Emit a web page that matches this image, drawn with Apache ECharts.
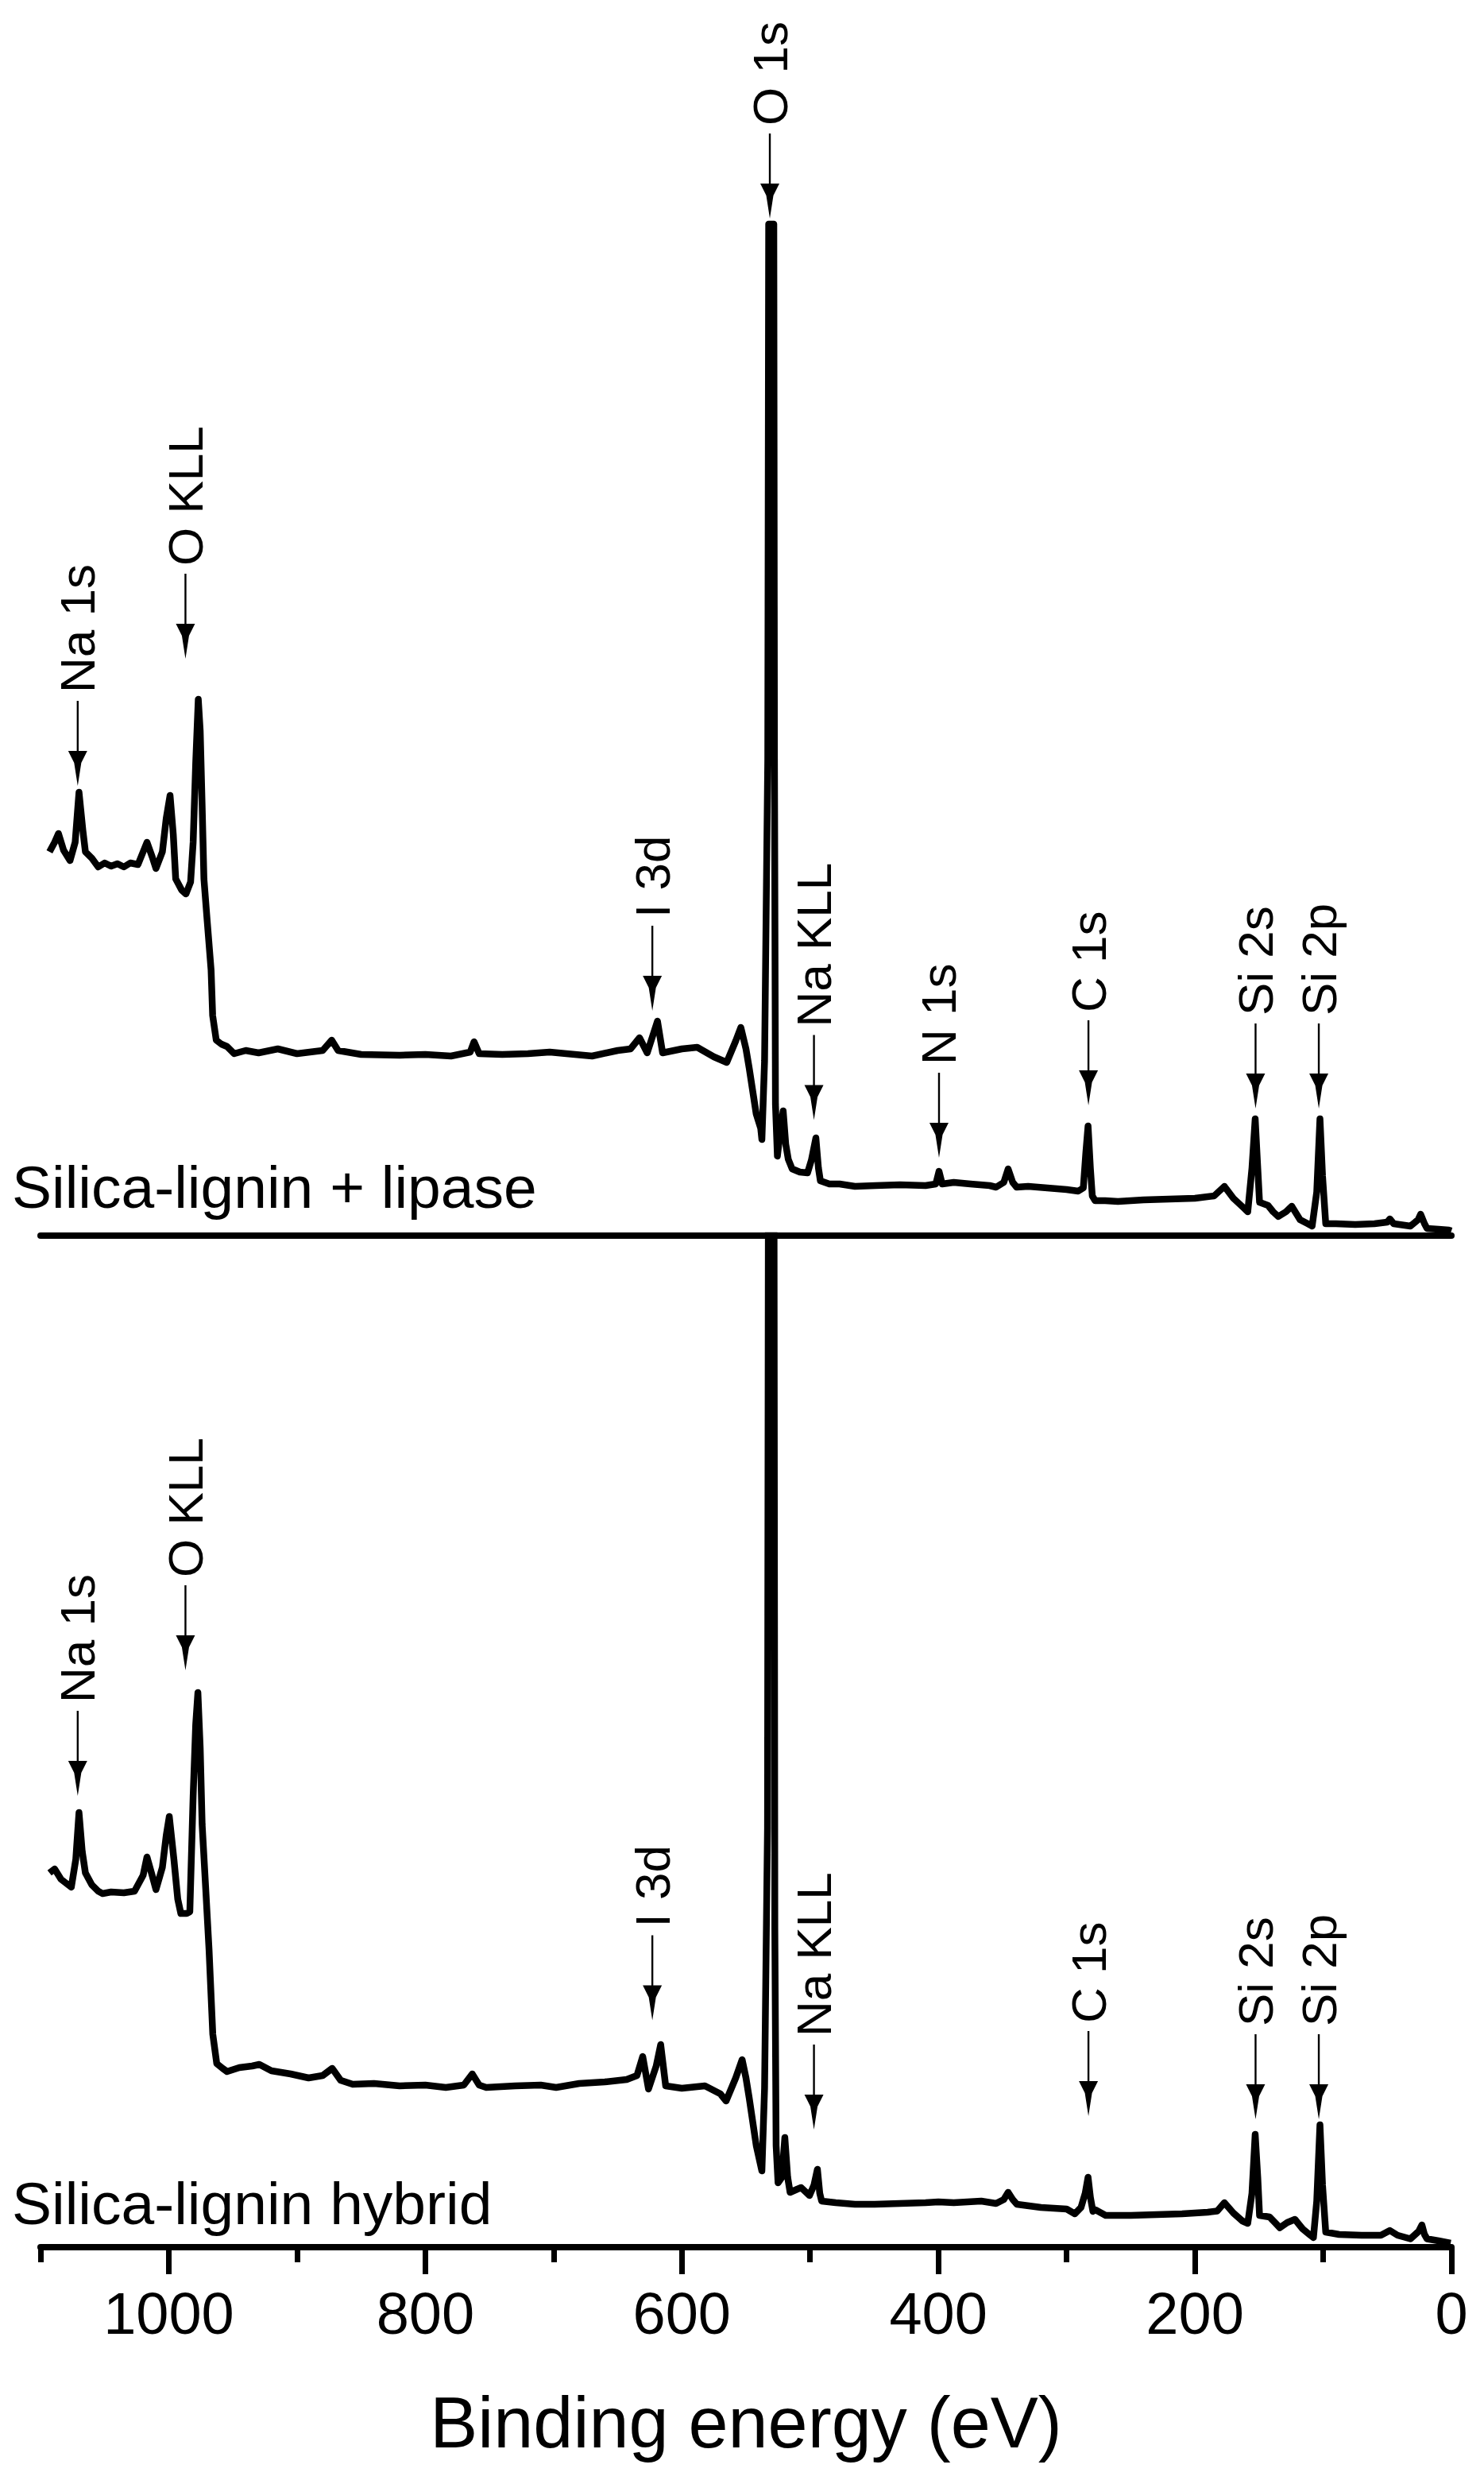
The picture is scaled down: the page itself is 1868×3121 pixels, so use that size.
<!DOCTYPE html>
<html>
<head>
<meta charset="utf-8">
<script src="https://cdn.jsdelivr.net/npm/echarts@6.0.0/dist/echarts.min.js"></script>
<style>
html,body{margin:0;padding:0;background:#fff;}
#chart{width:1868px;height:3121px;}
</style>
</head>
<body>
<div id="chart"></div>
<script>
// ---------------- data ----------------
const xTickValues = [0, 200, 400, 600, 800, 1000];
const xMinorTickValues = [100, 300, 500, 700, 900, 1100];
const sampleNames = ['Silica-lignin + lipase', 'Silica-lignin hybrid'];
const xAxisTitle = 'Binding energy (eV)';

// Top spectrum: Silica-lignin + lipase (binding energy eV, intensity a.u.)
const topEV = [1093,1089,1086,1082,1077,1073,1070,1067,1065,1060,1055,1050,1045,1040,1035,1030,1024,1020,1017,1013,1010,1005,1002,999,996.5,994.6,990,986.6,983,981,979,977,975.5,974,972.6,970,967,965.8,963,959,954.6,949,940,930,915,900,880,873,868,850,820,800,780,765,762,758,740,720,703,690,670,650,640,633,627,622,619,615,600,588,575,565,558,554,550,547.5,542,538.5,537.6,535.5,533,532.3,528.3,527.8,527,525.5,523,521,519,517,514,508,502,499,495.5,493.5,492,485,477,465,449,430,410,402,399.5,397,388,375,360,355,349,345.6,342,339,330,315,300,291,287,285,283.3,281.5,280,277.8,270,260,240,220,200,185,177,170,162,158.8,155.5,153,151,149.6,143,139,135,129,124.5,118,112,108.6,105,102.5,100.5,98,90,75,60,50,48,45,32,26,24,21,19,10,2,0];
const topCounts = [48.3,49.5,50.6,48.5,47.2,49.5,55.8,51,48.3,47.5,46.4,46.9,46.5,46.8,46.4,46.9,46.7,48.3,49.5,47.7,46.2,48.3,52.5,55.4,50.5,44.9,43.5,43.0,44.5,49.5,59.5,67.5,63.5,54.1,44.9,39.5,33.4,27.7,24.6,24.1,23.8,22.9,23.3,23,23.5,22.9,23.3,24.6,23.3,22.8,22.7,22.8,22.6,23.1,24.4,22.9,22.8,22.9,23.1,22.9,22.6,23.3,23.5,24.9,23,25.5,27,23,23.5,23.7,22.5,21.8,24.5,26.2,23.5,21.1,15.3,13.5,12.1,22,60,127.3,127.3,60,16.5,10,13.5,15.7,11.5,9.6,8.4,8,7.9,9.5,12.3,8.5,6.9,6.5,6.5,6.2,6.3,6.4,6.3,6.5,8.1,6.5,6.7,6.5,6.3,6.1,6.7,8.4,6.7,6.1,6.2,6,5.8,5.6,6,10.5,13.8,8.5,5,4.4,4.4,4.3,4.5,4.6,4.7,5,6.2,4.7,3.5,3,8.5,14.7,8.5,4.2,3.8,3,2.4,3,3.7,2,1.5,1.2,5.5,14.7,7.5,1.5,1.5,1.4,1.5,1.7,2.1,1.5,1.2,2,2.7,1.5,0.9,0.8,0.7,0.6];

// Bottom spectrum: Silica-lignin hybrid
const bottomEV = [1093,1089,1084,1080,1076,1072.5,1070,1067.5,1065,1060,1055,1051.6,1045,1035,1026.7,1020,1017,1013,1010,1005,1002,999.6,996,993,990.6,986,983.6,981,979,977.3,975.5,974,971,968.6,965.7,962.6,958,954.6,945,935,929.4,920,905,891,880,872.6,866,856.6,840,820,800,784,770,763.4,758,752.5,730,710,698,680,660,643,635,630.5,626,620,616.5,612.6,600,582,570,565.5,558,553,550,547.5,542,537.6,535.5,533.2,532.3,528.3,527.5,526.5,525,522,519.7,517.5,515.6,510,507,500.5,497,494.3,492.5,491,480,465,449.6,430,410,400,388,366.6,355,349,345.6,342,338.8,320,300,293.6,288.8,285.5,283.3,281.5,279.5,277.5,269.6,250,230,210,190,182.6,177,170,163,158.8,155.5,153,151,149.6,141.8,137,133.8,128,122,116,110,107.6,105,102.5,100.5,98,87.5,70,55,48,42,32,25.5,23,21,19,10,0.6];
const bottomCounts = [47.1,47.6,46.3,45.8,45.3,48.8,54.7,49.8,47.1,45.6,44.8,44.5,44.7,44.6,44.8,46.8,49.1,46.8,45,47.8,51.8,54.2,48.8,43.8,42,42,42.2,56.8,65.8,69.8,62.8,53.2,44.5,37.4,26.8,23.1,22.5,22.1,22.6,22.8,23,22.2,21.8,21.3,21.6,22.5,21,20.5,20.6,20.3,20.4,20.1,20.4,21.8,20.4,20.1,20.3,20.4,20.1,20.6,20.8,21.1,21.6,24,19.9,22.8,25.5,20.3,20,20.3,19.3,18.4,21.3,23.6,21.3,18.8,12.8,9.6,20,52.8,160,160,40,12.8,8.1,8.8,13.8,8.8,6.9,7.3,7.5,6.5,7.8,9.8,6.8,5.8,5.6,5.4,5.4,5.5,5.6,5.7,5.6,5.8,5.5,6,6.9,6,5.4,5,4.8,4.2,5,6.8,8.8,6.3,4.5,4.7,4,4,4.1,4.2,4.4,4.55,5.6,4.3,3.3,3,6.8,14.2,8.8,4,3.8,3,2.45,3.1,3.5,2.3,1.5,1.2,5.8,15.4,7.8,1.9,1.6,1.5,1.5,2.1,1.5,1.05,2,2.8,1.6,1.05,0.8,0.5];

// Peak annotations (label, binding energy, arrow tip intensity)
const topPeakLabels = ['Na 1s','O KLL','I 3d','O 1s','Na KLL','N 1s','C 1s','Si 2s','Si 2p'];
const topPeakEV     = [1071, 987, 623, 531.4, 497, 399.5, 283, 152.7, 103.4];
const topArrowTip   = [56.6, 72.6, 28.3, 128, 14.55, 9.8, 16.4, 16, 16];

const bottomPeakLabels = ['Na 1s','O KLL','I 3d','Na KLL','C 1s','Si 2s','Si 2p'];
const bottomPeakEV     = [1071, 987, 623, 497, 283, 152.7, 103.4];
const bottomArrowTip   = [56.8, 72.6, 28.55, 14.8, 16.5, 16.1, 16.1];

// ---------------- chart ----------------
const FONT = '"Liberation Sans", Arial, Helvetica, sans-serif';
function pairs(xs, ys) { return xs.map((x, i) => [x, ys[i]]); }

function arrowRenderer(labels) {
  return function (params, api) {
    const p = api.coord([api.value(0), api.value(1)]);
    const x = p[0], tipY = p[1];
    const headTop = tipY - 44;
    const tailY = tipY - 107;
    return {
      type: 'group',
      children: [
        { type: 'line', shape: { x1: x, y1: tailY, x2: x, y2: headTop + 2 },
          style: { stroke: '#000', lineWidth: 2.4 } },
        { type: 'polygon', shape: { points: [[x - 12, headTop], [x + 12, headTop], [x + 4.5, headTop + 15], [x, tipY], [x - 4.5, headTop + 15]] },
          style: { fill: '#000' } },
        { type: 'text', x: x, y: tailY - 10, rotation: Math.PI / 2,
          style: { text: labels[params.dataIndex], font: '62px ' + FONT, fill: '#000',
                   align: 'left', verticalAlign: 'middle', textAlign: 'left', textVerticalAlign: 'middle' } }
      ]
    };
  };
}

const chart = echarts.init(document.getElementById('chart'), null, { renderer: 'svg' });

const option = {
  animation: false,
  backgroundColor: '#fff',
  grid: [
    { left: 51, right: 41, top: 55, height: 1500 },
    { left: 51, right: 41, top: 1555, height: 1273 }
  ],
  xAxis: [
    { gridIndex: 0, type: 'value', min: 0, max: 1100, inverse: true, position: 'bottom',
      axisLine: { onZero: false, lineStyle: { color: '#000', width: 8 } },
      axisTick: { show: false }, axisLabel: { show: false }, splitLine: { show: false } },
    { gridIndex: 1, type: 'value', min: 0, max: 1100, inverse: true, position: 'bottom',
      axisLine: { onZero: false, lineStyle: { color: '#000', width: 8 } },
      axisTick: { show: true, length: 34, customValues: xTickValues, lineStyle: { color: '#000', width: 7 } },
      axisLabel: { customValues: xTickValues, formatter: (v) => String(Math.round(v)),
                   fontSize: 74, fontFamily: FONT, color: '#000', margin: 46 },
      splitLine: { show: false },
      name: xAxisTitle, nameLocation: 'middle', nameGap: 176,
      nameTextStyle: { fontSize: 90, fontFamily: FONT, color: '#000' } },
    { gridIndex: 1, type: 'value', min: 0, max: 1100, inverse: true, position: 'bottom',
      axisLine: { show: false, onZero: false },
      axisTick: { show: true, length: 19, customValues: xMinorTickValues, lineStyle: { color: '#000', width: 7 } },
      axisLabel: { show: false }, splitLine: { show: false } }
  ],
  yAxis: [
    { gridIndex: 0, type: 'value', min: 0, max: 150, show: false },
    { gridIndex: 1, type: 'value', min: 0, max: 127.3, show: false }
  ],
  series: [
    { type: 'line', xAxisIndex: 0, yAxisIndex: 0, data: pairs(topEV, topCounts),
      showSymbol: false, symbol: 'none', clip: true,
      lineStyle: { color: '#000', width: 8.5, join: 'round' } },
    { type: 'line', xAxisIndex: 1, yAxisIndex: 1, data: pairs(bottomEV, bottomCounts),
      showSymbol: false, symbol: 'none', clip: true,
      lineStyle: { color: '#000', width: 8.5, join: 'round' } },
    { type: 'custom', coordinateSystem: 'cartesian2d', xAxisIndex: 0, yAxisIndex: 0,
      data: pairs(topPeakEV, topArrowTip), renderItem: arrowRenderer(topPeakLabels), clip: false, z: 3 },
    { type: 'custom', coordinateSystem: 'cartesian2d', xAxisIndex: 1, yAxisIndex: 1,
      data: pairs(bottomPeakEV, bottomArrowTip), renderItem: arrowRenderer(bottomPeakLabels), clip: false, z: 3 }
  ],
  graphic: [
    { type: 'text', x: 15, y: 1494,
      style: { text: sampleNames[0], font: '75px ' + FONT, fill: '#000',
               align: 'left', verticalAlign: 'middle', textAlign: 'left', textVerticalAlign: 'middle' } },
    { type: 'text', x: 15, y: 2773,
      style: { text: sampleNames[1], font: '75px ' + FONT, fill: '#000',
               align: 'left', verticalAlign: 'middle', textAlign: 'left', textVerticalAlign: 'middle' } }
  ]
};
chart.setOption(option);
</script>
</body>
</html>
